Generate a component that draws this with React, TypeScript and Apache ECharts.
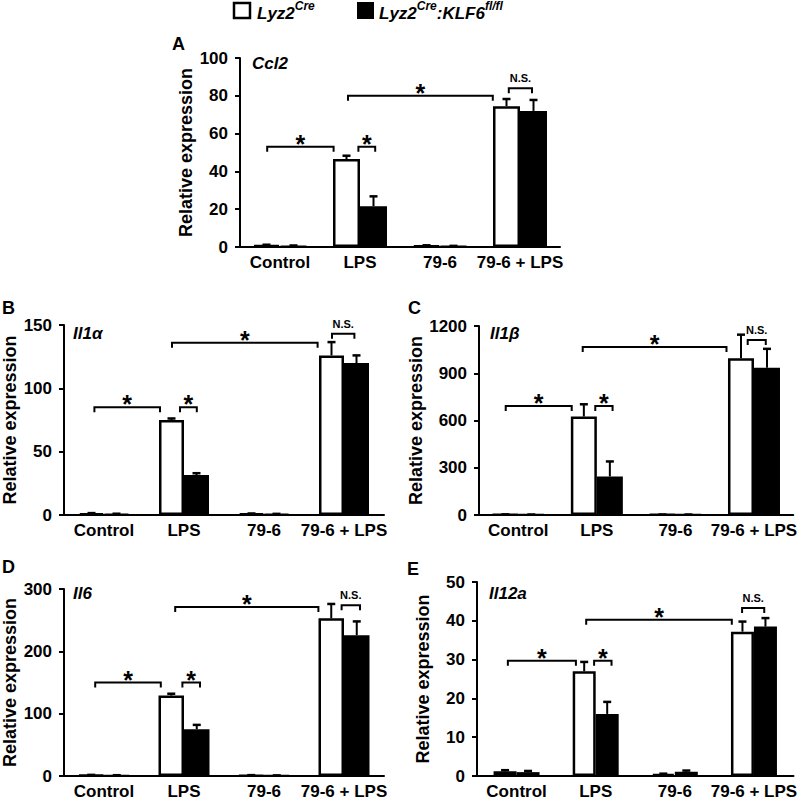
import React, { useEffect, useRef } from "react";
import * as echarts from "echarts";

const FONT = "Liberation Sans, Arial, sans-serif";

const categories = ["Control", "LPS", "79-6", "79-6 + LPS"];

// Panel A: Ccl2
const ccl2Cre = [1.0, 46.5, 0.8, 74.5];
const ccl2CreErr = [0.2, 1.8, 0.1, 3.8];
const ccl2Ko = [0.6, 21.5, 0.5, 72];
const ccl2KoErr = [0.2, 5.3, 0.1, 5.8];

// Panel B: Il1a
const il1aCre = [1.2, 75, 1.0, 126];
const il1aCreErr = [0.3, 1.2, 0.2, 10.5];
const il1aKo = [0.8, 31.5, 0.7, 120];
const il1aKoErr = [0.2, 1.5, 0.2, 6];

// Panel C: Il1b
const il1bCre = [3, 625, 2, 995];
const il1bCreErr = [1, 78, 1, 150];
const il1bKo = [2, 245, 2, 935];
const il1bKoErr = [1, 95, 1, 120];

// Panel D: Il6
const il6Cre = [1.5, 129, 1.2, 253];
const il6CreErr = [0.3, 3, 0.2, 23];
const il6Ko = [1.0, 75, 0.8, 226];
const il6KoErr = [0.3, 7, 0.2, 22];

// Panel E: Il12a
const il12aCre = [1.2, 27, 0.5, 37.2];
const il12aCreErr = [0.3, 2.4, 0.1, 2.6];
const il12aKo = [1.0, 16, 1.1, 38.5];
const il12aKoErr = [0.3, 3.1, 0.3, 2.2];

// Significance brackets: [fromCategory, toCategory, yValue]
const ccl2Brackets = [[-0.16, 0.67, 53], [0.98, 1.19, 53], [0.85, 2.66, 80], [2.86, 3.15, 84]];
const il1aBrackets = [[-0.12, 0.7, 85], [0.95, 1.16, 85], [0.85, 2.67, 136], [2.85, 3.13, 143]];
const il1bBrackets = [[-0.16, 0.68, 692], [0.98, 1.2, 692], [0.82, 2.65, 1067], [2.92, 3.15, 1111]];
const il6Brackets = [[-0.11, 0.71, 150], [0.98, 1.2, 150], [0.89, 2.68, 271], [2.97, 3.2, 274]];
const il12aBrackets = [[-0.11, 0.75, 29.7], [0.98, 1.2, 29.7], [0.88, 2.72, 40.3], [2.85, 3.13, 43.3]];
const bracketLabels = ["*", "*", "*", "N.S."];

const yMax = [100, 150, 1200, 300, 50];
const yInterval = [20, 50, 300, 100, 10];
const geneNames = ["Ccl2", "Il1α", "Il1β", "Il6", "Il12a"];
const panelLetters = ["A", "B", "C", "D", "E"];
const seriesNames = ["Lyz2Cre", "Lyz2Cre:KLF6fl/fl"];

const panels = [
  { cre: ccl2Cre, creErr: ccl2CreErr, ko: ccl2Ko, koErr: ccl2KoErr, br: ccl2Brackets },
  { cre: il1aCre, creErr: il1aCreErr, ko: il1aKo, koErr: il1aKoErr, br: il1aBrackets },
  { cre: il1bCre, creErr: il1bCreErr, ko: il1bKo, koErr: il1bKoErr, br: il1bBrackets },
  { cre: il6Cre, creErr: il6CreErr, ko: il6Ko, koErr: il6KoErr, br: il6Brackets },
  { cre: il12aCre, creErr: il12aCreErr, ko: il12aKo, koErr: il12aKoErr, br: il12aBrackets },
];

// layout
const grids = [
  { left: 240, top: 58, width: 320, height: 189 },
  { left: 62, top: 325, width: 322, height: 190 },
  { left: 479, top: 326, width: 316, height: 189 },
  { left: 61, top: 589, width: 323, height: 188 },
  { left: 477, top: 582, width: 318, height: 195 },
];
const barWidths = [27, 25, 26, 25.5, 23];
const genePos = [[252, 63], [73, 333], [490, 333], [73, 593], [489, 593]];
const letterPos = [[172, 45], [2, 309], [408, 309], [2, 568], [407, 570]];

function buildOption() {
  const xAxis: any[] = [];
  const yAxis: any[] = [];
  const series: any[] = [];
  panels.forEach((p, i) => {
    xAxis.push({
      type: "category",
      gridIndex: i,
      data: categories,
      axisLine: { lineStyle: { color: "#000", width: 2 } },
      axisTick: { show: false },
      axisLabel: { color: "#000", fontSize: 17, fontWeight: "bold", fontFamily: FONT, margin: 7, interval: 0 },
      splitLine: { show: false },
    });
    yAxis.push({
      type: "value",
      gridIndex: i,
      min: 0,
      max: yMax[i],
      interval: yInterval[i],
      name: "Relative expression",
      nameLocation: "middle",
      nameGap: 45,
      nameTextStyle: { color: "#000", fontSize: 18, fontWeight: "bold", fontFamily: FONT },
      axisLine: { show: true, lineStyle: { color: "#000", width: 2 } },
      axisTick: { show: true, length: 5, lineStyle: { color: "#000", width: 2 } },
      axisLabel: {
        color: "#000",
        fontSize: 17,
        fontWeight: "bold",
        fontFamily: FONT,
        margin: 12,
        formatter: (v: number) => String(v),
      },
      splitLine: { show: false },
    });
    const bw = barWidths[i];
    series.push({
      type: "bar",
      name: seriesNames[0],
      xAxisIndex: i,
      yAxisIndex: i,
      data: p.cre,
      barWidth: bw,
      barGap: "0%",
      itemStyle: { color: "#fff", borderColor: "#000", borderWidth: 2.5 },
      z: 2,
    });
    series.push({
      type: "bar",
      name: seriesNames[1],
      xAxisIndex: i,
      yAxisIndex: i,
      data: p.ko,
      barWidth: bw,
      barGap: "0%",
      itemStyle: { color: "#000", borderColor: "#000", borderWidth: 2 },
      z: 2,
    });
    const errData: number[][] = [];
    p.cre.forEach((v, k) => errData.push([k, v + p.creErr[k], v, 0]));
    p.ko.forEach((v, k) => errData.push([k, v + p.koErr[k], v, 1]));
    series.push({
      type: "custom",
      xAxisIndex: i,
      yAxisIndex: i,
      z: 3,
      silent: true,
      data: errData,
      renderItem: (params: any, api: any) => {
        const cat = api.value(0);
        const top = api.value(1);
        const val = api.value(2);
        const side = api.value(3);
        const p1 = api.coord([cat, val]);
        const p2 = api.coord([cat, top]);
        const x = p1[0] + (side === 0 ? -bw / 2 : bw / 2);
        return {
          type: "group",
          children: [
            { type: "line", shape: { x1: x, y1: p1[1], x2: x, y2: p2[1] }, style: { stroke: "#000", lineWidth: 2 } },
            { type: "line", shape: { x1: x - 4, y1: p2[1], x2: x + 4, y2: p2[1] }, style: { stroke: "#000", lineWidth: 2.5 } },
          ],
        };
      },
    });
    const brData = p.br.map((b) => [0, b[2], b[0], b[1]]);
    series.push({
      type: "custom",
      xAxisIndex: i,
      yAxisIndex: i,
      z: 4,
      silent: true,
      data: brData,
      renderItem: (params: any, api: any) => {
        const yv = api.value(1);
        const f1 = api.value(2);
        const f2 = api.value(3);
        const base = api.coord([0, yv]);
        const band = api.size([1, 0])[0];
        const x1 = base[0] + f1 * band;
        const x2 = base[0] + f2 * band;
        const y = base[1];
        const label = bracketLabels[params.dataIndex];
        const isStar = label === "*";
        return {
          type: "group",
          children: [
            {
              type: "polyline",
              shape: { points: [[x1, y + 5], [x1, y], [x2, y], [x2, y + 5]] },
              style: { stroke: "#000", lineWidth: 2, fill: null },
            },
            {
              type: "text",
              x: (x1 + x2) / 2,
              y: isStar ? y - 3 : y - 10,
              style: {
                text: label,
                fontSize: isStar ? 25 : 11,
                fontWeight: "bold",
                fontFamily: FONT,
                fill: "#000",
                align: "center",
                verticalAlign: "middle",
              },
            },
          ],
        };
      },
    });
  });

  const graphic: any[] = [];
  panels.forEach((_, i) => {
    graphic.push({
      type: "text",
      left: letterPos[i][0],
      top: letterPos[i][1] - 10,
      style: { text: panelLetters[i], fontSize: 18, fontWeight: "bold", fontFamily: FONT, fill: "#000" },
    });
    graphic.push({
      type: "text",
      x: genePos[i][0],
      y: genePos[i][1],
      style: {
        text: geneNames[i],
        fontSize: 17,
        fontWeight: "bold",
        fontStyle: "italic",
        fontFamily: FONT,
        fill: "#000",
        verticalAlign: "middle",
      },
    });
  });
  // legend
  graphic.push({ type: "rect", shape: { x: 234, y: 3, width: 16, height: 15 }, style: { fill: "#fff", stroke: "#000", lineWidth: 2.5 } });
  graphic.push({ type: "rect", shape: { x: 357, y: 2, width: 17, height: 17 }, style: { fill: "#000" } });
  const rich = {
    m: { fontSize: 17, fontWeight: "bold", fontStyle: "italic", fontFamily: FONT, fill: "#000", color: "#000", lineHeight: 22, verticalAlign: "bottom" },
    s: { fontSize: 12, fontWeight: "bold", fontStyle: "italic", fontFamily: FONT, fill: "#000", color: "#000", lineHeight: 22, verticalAlign: "top", padding: [0, 0, 8, 0] },
  };
  graphic.push({
    type: "text",
    x: 257,
    y: 11,
    style: { text: "{m|Lyz2}{s|Cre}", rich, verticalAlign: "middle" },
  });
  graphic.push({
    type: "text",
    x: 379,
    y: 11,
    style: { text: "{m|Lyz2}{s|Cre}{m|:KLF6}{s|fl/fl}", rich, verticalAlign: "middle" },
  });

  return {
    animation: false,
    backgroundColor: "#fff",
    grid: grids,
    xAxis,
    yAxis,
    series,
    graphic,
  };
}

export default function App() {
  const ref = useRef<HTMLDivElement>(null);
  useEffect(() => {
    if (!ref.current) return;
    const chart = echarts.init(ref.current, undefined, { renderer: "svg" });
    chart.setOption(buildOption() as any);
    return () => chart.dispose();
  }, []);
  return <div ref={ref} style={{ position: "fixed", left: 0, top: 0, width: 800, height: 800 }} />;
}
